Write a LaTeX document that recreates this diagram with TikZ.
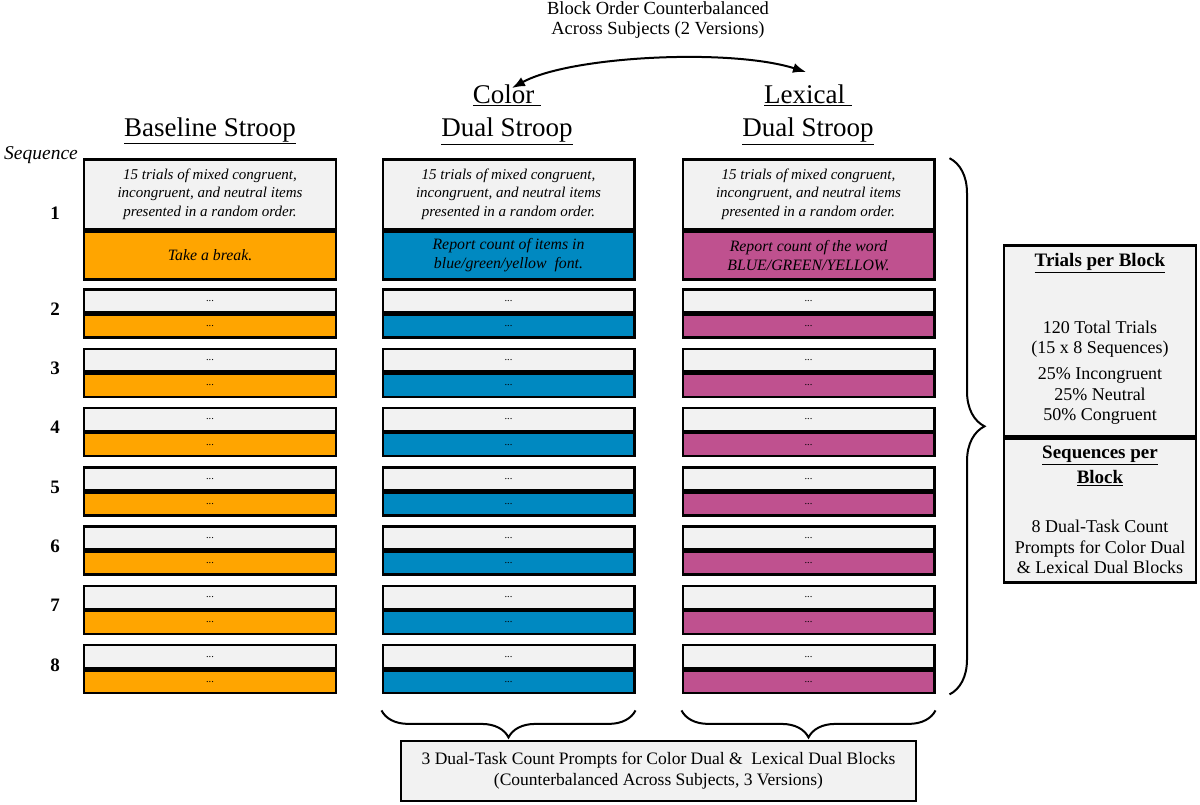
\documentclass[tikz,border=0pt]{standalone}
\usepackage{fontspec}
\setmainfont{Liberation Serif}
\usetikzlibrary{arrows.meta,positioning,decorations.pathreplacing}
\definecolor{boxgray}{HTML}{F2F2F2}
\definecolor{breakorange}{HTML}{FFA500}
\definecolor{colorblue}{HTML}{0089C1}
\definecolor{lexpink}{HTML}{BF518F}
\def\fs#1#2{\fontsize{#1}{#2}\selectfont}
\tikzset{
	seqbox/.style={draw, line width=2.4pt, minimum width=251.6pt, inner sep=0pt, font=\fs{10.5}{10}},
	topbox/.style={seqbox, fill=boxgray, minimum height=22.8pt},
	lowbox/.style={seqbox, minimum height=22.8pt, below=0pt of #1},
	seqnum/.style={font=\bfseries\fs{19}{20}},
	head/.style={font=\fs{27}{33}, align=center},
	panel/.style={draw, line width=2.4pt, fill=boxgray, inner sep=0pt, anchor=north},
	paneltext/.style={font=\fs{18}{20.5}, align=center},
	bracket/.style={decorate, line width=2pt},
}
% one sequence row: number, top of the row
\def\seqrow#1#2{%
	\node[seqnum] (num-#1) at (55,#2+22) {#1};
	\node[topbox, anchor=north] (base-#1-u) at (210,#2+1.2) {...};
	\node[lowbox=base-#1-u, fill=breakorange] (base-#1-l) {...};
	\node[topbox, anchor=north] (color-#1-u) at (508.5,#2+1.2) {...};
	\node[lowbox=color-#1-u, fill=colorblue] (color-#1-l) {...};
	\node[topbox, anchor=north] (lex-#1-u) at (808.5,#2+1.2) {...};
	\node[lowbox=lex-#1-u, fill=lexpink] (lex-#1-l) {...};
}

\begin{document}
\begin{tikzpicture}[x=1pt, y=-1pt]
		%%%%% START %%%%%
		\useasboundingbox (0,0) rectangle (1200,804);
		
		% block order
		\node[font=\fs{18.5}{19.5}, align=center] (order) at (658,20) {Block Order Counterbalanced\\Across Subjects (2 Versions)};
		\coordinate (arrowL) at (512,88);
		\coordinate (arrowR) at (806,72);
		\draw[line width=2pt, {Latex[length=13pt,width=10pt]}-{Latex[length=13pt,width=10pt]}] (arrowL) .. controls (570,56) and (730,48) .. (arrowR);
		
		% column heads
		\node[head] (basehead) at (210,131) {\underline{Baseline Stroop}};
		\node[head] (colorhead) at (507,115) {\underline{Color\ }\\\underline{Dual Stroop}};
		\node[head] (lexhead) at (808,115) {\underline{Lexical\ }\\\underline{Dual Stroop}};
		\node[font=\itshape\fs{19.5}{20}] (seqlabel) at (41,155) {Sequence};
		
		% sequence 1
		\node[seqnum] (num-1) at (55,213) {1};
		\node[seqbox, fill=boxgray, minimum height=69.8pt, anchor=north, font=\itshape\fs{15}{18.8}, align=center] (base-1-u) at (210,158.2) {15 trials of mixed congruent,\\incongruent, and neutral items\\presented in a random order.};
		\node[seqbox, fill=breakorange, minimum height=47.8pt, below=0pt of base-1-u, font=\itshape\fs{15.8}{19}, align=center] (base-1-l) {Take a break.};
		\node[seqbox, fill=boxgray, minimum height=69.8pt, anchor=north, font=\itshape\fs{15}{18.8}, align=center] (color-1-u) at (508.5,158.2) {15 trials of mixed congruent,\\incongruent, and neutral items\\presented in a random order.};
		\node[seqbox, fill=colorblue, minimum height=47.8pt, below=0pt of color-1-u, font=\itshape\fs{15.8}{19}, align=center] (color-1-l) {Report count of items in\\blue/green/yellow\ \ font.};
		\node[seqbox, fill=boxgray, minimum height=69.8pt, anchor=north, font=\itshape\fs{15}{18.8}, align=center] (lex-1-u) at (808.5,158.2) {15 trials of mixed congruent,\\incongruent, and neutral items\\presented in a random order.};
		\node[seqbox, fill=lexpink, minimum height=47.8pt, below=0pt of lex-1-u, font=\itshape\fs{15.8}{19}, align=center] (lex-1-l) {Report count of the word\\BLUE/GREEN/YELLOW.};
		
		% sequences 2 to 8
		\seqrow{2}{287}
		\seqrow{3}{346.3}
		\seqrow{4}{405.6}
		\seqrow{5}{464.9}
		\seqrow{6}{524.2}
		\seqrow{7}{583.5}
		\seqrow{8}{642.8}
		
		% braces
		\draw[bracket, decoration={brace, amplitude=35pt}] ([xshift=14pt]lex-1-u.north east) -- ([xshift=14pt]lex-8-l.south east);
		\draw[bracket, decoration={brace, amplitude=27pt}] ([yshift=-16pt]color-8-l.south east) -- ([yshift=-16pt]color-8-l.south west);
		\draw[bracket, decoration={brace, amplitude=27pt}] ([yshift=-16pt]lex-8-l.south east) -- ([yshift=-16pt]lex-8-l.south west);
		
		% per block panel
		\node[panel, minimum width=191.6pt, minimum height=190.8pt] (trials) at (1100,244.2) {};
		\node[panel, minimum width=191.6pt, minimum height=143.8pt] (sequences) at (trials.south) {};
		\node[font=\bfseries\fs{19}{25}] (trialshead) at (1100,263) {\underline{Trials per Block}};
		\node[paneltext] (total) at (1100,339) {120 Total Trials\\(15 x 8 Sequences)};
		\node[paneltext] (mix) at (1100,396) {25\% Incongruent\\25\% Neutral\\50\% Congruent};
		\node[font=\bfseries\fs{19}{25}, align=center] (seqhead) at (1100,466) {\underline{Sequences per}\\\underline{Block}};
		\node[paneltext] (prompts) at (1100,547) {8 Dual-Task Count\\Prompts for Color Dual\\\& Lexical Dual Blocks};
		
		% count prompts
		\node[draw, line width=2.4pt, fill=boxgray, minimum width=514.6pt, minimum height=59.6pt, font=\fs{17.5}{21}, align=center] (countbox) at (658.5,771) {3 Dual-Task Count Prompts for Color Dual \&\ \ Lexical Dual Blocks\\(Counterbalanced Across Subjects, 3 Versions)};
		
		%%%%% END %%%%%
	\end{tikzpicture}
\end{document}
